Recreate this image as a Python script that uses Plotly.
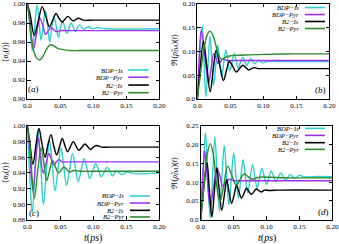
import plotly.graph_objects as go

# ---------------- data ----------------
SERIES_NAMES = ["BDP−Is", "BDP−Pyr", "B2−Is", "B2−Pyr"]
COLORS = ["#2fd0d0", "#a030f0", "#000000", "#2e8b2e"]

X_TICKS = [0.0, 0.05, 0.10, 0.15, 0.20]
X_TICKTEXT = ["0.0", "0.05", "0.10", "0.15", "0.20"]
A_YTICKS = [0.90, 0.92, 0.94, 0.96, 0.98, 1.00]
A_YTICKTEXT = ["0.90", "0.92", "0.94", "0.96", "0.98", "1.00"]
B_YTICKS = [0.0, 0.05, 0.10, 0.15, 0.20]
B_YTICKTEXT = ["0.0", "0.05", "0.10", "0.15", "0.20"]
C_YTICKS = [0.88, 0.90, 0.92, 0.94, 0.96, 0.98, 1.00]
C_YTICKTEXT = ["0.88", "0.90", "0.92", "0.94", "0.96", "0.98", "1.00"]
D_YTICKS = [0.0, 0.05, 0.10, 0.15, 0.20, 0.25]
D_YTICKTEXT = ["0.0", "0.05", "0.10", "0.15", "0.20", "0.25"]

# panel (a): <sigma_z(t)>
a_bdp_is_t = [0, 0.0025, 0.0076, 0.0112, 0.0148, 0.018, 0.0208, 0.024, 0.0275, 0.031, 0.034, 0.037,
              0.0405, 0.044, 0.047, 0.050, 0.0535, 0.057, 0.060, 0.063, 0.0665, 0.070, 0.073, 0.076,
              0.0795, 0.083, 0.086, 0.089, 0.0925, 0.096, 0.099, 0.105, 0.12, 0.2]
a_bdp_is_v = [1.0, 0.988, 0.951, 0.975, 0.999, 0.980, 0.962, 0.977, 0.993, 0.976, 0.960, 0.974,
              0.986, 0.976, 0.965, 0.974, 0.982, 0.975, 0.969, 0.974, 0.980, 0.975, 0.971, 0.975,
              0.978, 0.975, 0.973, 0.975, 0.976, 0.975, 0.974, 0.975, 0.974, 0.974]
a_bdp_pyr_t = [0, 0.003, 0.0095, 0.014, 0.019, 0.0235, 0.028, 0.032, 0.036, 0.040, 0.044, 0.05, 0.06, 0.2]
a_bdp_pyr_v = [1.0, 0.988, 0.953, 0.969, 0.985, 0.977, 0.968, 0.972, 0.975, 0.973, 0.971, 0.972, 0.972, 0.972]
a_b2_is_t = [0, 0.004, 0.0105, 0.0165, 0.0225, 0.028, 0.0335, 0.0385, 0.0435, 0.048, 0.053, 0.057,
             0.0615, 0.066, 0.070, 0.074, 0.078, 0.085, 0.1, 0.2]
a_b2_is_v = [1.0, 0.990, 0.967, 0.982, 0.997, 0.987, 0.976, 0.983, 0.990, 0.985, 0.981, 0.984,
             0.987, 0.984, 0.982, 0.984, 0.985, 0.983, 0.983, 0.983]
a_b2_pyr_t = [0, 0.003, 0.0065, 0.010, 0.014, 0.0185, 0.023, 0.028, 0.0345, 0.040, 0.047, 0.055,
              0.065, 0.08, 0.1, 0.2]
a_b2_pyr_v = [1.0, 0.985, 0.962, 0.950, 0.943, 0.941, 0.944, 0.951, 0.957, 0.956, 0.953, 0.952,
              0.951, 0.951, 0.951, 0.951]

# panel (b): Re(rho_DA)(t)
b_bdp_is_t = [0, 0.0025, 0.005, 0.0076, 0.0103, 0.013, 0.0162, 0.0194, 0.022, 0.0245, 0.028, 0.031,
              0.034, 0.037, 0.040, 0.0435, 0.0465, 0.0495, 0.053, 0.056, 0.059, 0.062, 0.0655, 0.0688,
              0.072, 0.075, 0.078, 0.081, 0.084, 0.087, 0.090, 0.093, 0.096, 0.099, 0.105, 0.12, 0.2]
b_bdp_is_v = [0, 0.06, 0.125, 0.154, 0.08, 0.005, 0.07, 0.133, 0.08, 0.029, 0.072, 0.114,
              0.08, 0.047, 0.075, 0.103, 0.08, 0.060, 0.079, 0.096, 0.08, 0.065, 0.078, 0.088,
              0.079, 0.070, 0.078, 0.085, 0.079, 0.074, 0.078, 0.082, 0.079, 0.076, 0.079, 0.079, 0.079]
b_bdp_pyr_t = [0, 0.003, 0.006, 0.0115, 0.017, 0.021, 0.025, 0.0285, 0.032, 0.0355, 0.039, 0.045, 0.06, 0.2]
b_bdp_pyr_v = [0, 0.09, 0.145, 0.09, 0.033, 0.065, 0.096, 0.085, 0.074, 0.079, 0.084, 0.081, 0.081, 0.081]
b_b2_is_t = [0, 0.004, 0.0093, 0.0145, 0.0195, 0.024, 0.0285, 0.034, 0.0395, 0.044, 0.0485, 0.054,
             0.059, 0.064, 0.069, 0.0735, 0.078, 0.082, 0.086, 0.092, 0.1, 0.2]
b_b2_is_v = [0, 0.06, 0.121, 0.068, 0.015, 0.06, 0.103, 0.071, 0.039, 0.059, 0.079, 0.068,
             0.057, 0.064, 0.071, 0.066, 0.061, 0.064, 0.066, 0.064, 0.064, 0.064]
b_b2_pyr_t = [0, 0.005, 0.01, 0.015, 0.019, 0.024, 0.029, 0.033, 0.037, 0.042, 0.05, 0.06, 0.08, 0.1, 0.15, 0.2]
b_b2_pyr_v = [0, 0.055, 0.105, 0.135, 0.143, 0.133, 0.108, 0.09, 0.084, 0.087, 0.091, 0.092, 0.093, 0.094, 0.095, 0.095]

# panel (c): <sigma_x(t)>
c_bdp_is_t = [0, 0.0035, 0.0075, 0.0118, 0.016, 0.0203, 0.0245, 0.029, 0.0335, 0.0378, 0.042, 0.0465,
              0.051, 0.0553, 0.0595, 0.064, 0.0685, 0.0728, 0.077, 0.0815, 0.086, 0.0903, 0.0945,
              0.099, 0.1035, 0.1078, 0.112, 0.1165, 0.121, 0.125, 0.129, 0.135, 0.143, 0.152, 0.16, 0.2]
c_bdp_is_v = [1.0, 0.94, 0.889, 0.945, 0.995, 0.95, 0.899, 0.942, 0.982, 0.950, 0.917, 0.944,
              0.972, 0.948, 0.924, 0.944, 0.965, 0.947, 0.929, 0.943, 0.958, 0.946, 0.933,
              0.942, 0.952, 0.944, 0.935, 0.941, 0.947, 0.942, 0.936, 0.942, 0.938, 0.941, 0.939, 0.940]
c_bdp_pyr_t = [0, 0.003, 0.0085, 0.0125, 0.0165, 0.020, 0.024, 0.0285, 0.033, 0.0365, 0.040, 0.044,
               0.048, 0.053, 0.06, 0.2]
c_bdp_pyr_v = [1.0, 0.975, 0.917, 0.952, 0.985, 0.962, 0.940, 0.953, 0.965, 0.957, 0.950, 0.954,
               0.957, 0.954, 0.954, 0.954]
c_b2_is_t = [0, 0.003, 0.0085, 0.013, 0.0177, 0.022, 0.027, 0.031, 0.0359, 0.040, 0.0445, 0.049,
             0.053, 0.057, 0.061, 0.065, 0.0697, 0.074, 0.078, 0.083, 0.0874, 0.092, 0.096, 0.100,
             0.105, 0.112, 0.125, 0.2]
c_b2_is_v = [1.0, 0.985, 0.951, 0.975, 0.997, 0.978, 0.960, 0.975, 0.989, 0.975, 0.963, 0.974,
             0.984, 0.975, 0.967, 0.973, 0.980, 0.974, 0.969, 0.973, 0.977, 0.973, 0.970, 0.973,
             0.975, 0.973, 0.973, 0.973]
c_b2_pyr_t = [0, 0.004, 0.0105, 0.0155, 0.0207, 0.025, 0.0293, 0.0335, 0.038, 0.0425, 0.047, 0.051,
              0.0556, 0.060, 0.0646, 0.070, 0.08, 0.1, 0.2]
c_b2_pyr_v = [1.0, 0.975, 0.907, 0.940, 0.972, 0.953, 0.930, 0.942, 0.956, 0.948, 0.940, 0.943,
              0.9475, 0.944, 0.941, 0.943, 0.942, 0.942, 0.942]

# panel (d): Re(rho_DA)(t)
d_bdp_is_t = [0, 0.0036, 0.0072, 0.0107, 0.0143, 0.0179, 0.0215, 0.025, 0.0286, 0.0322, 0.0358, 0.0393,
              0.0429, 0.0465, 0.0501, 0.0536, 0.0572, 0.0608, 0.0644, 0.0679, 0.0715, 0.0751, 0.0787,
              0.0822, 0.0858, 0.0894, 0.093, 0.0965, 0.1001, 0.1037, 0.1073, 0.1108, 0.1144, 0.118,
              0.1216, 0.1251, 0.1287, 0.1323, 0.1359, 0.1394, 0.143, 0.1466, 0.150, 0.1573, 0.17, 0.2]
d_bdp_is_v = [0, 0.12, 0.232, 0.12, 0.005, 0.112, 0.220, 0.121, 0.022, 0.11, 0.198, 0.119,
              0.040, 0.109, 0.178, 0.117, 0.057, 0.108, 0.160, 0.116, 0.072, 0.11, 0.147,
              0.116, 0.084, 0.111, 0.137, 0.116, 0.094, 0.112, 0.130, 0.116, 0.101, 0.113,
              0.125, 0.116, 0.106, 0.113, 0.121, 0.116, 0.110, 0.114, 0.119, 0.114, 0.115, 0.115]
d_bdp_pyr_t = [0, 0.003, 0.006, 0.0095, 0.0145, 0.0195, 0.0245, 0.029, 0.0335, 0.038, 0.043, 0.05, 0.06, 0.2]
d_bdp_pyr_v = [0, 0.11, 0.185, 0.12, 0.035, 0.085, 0.138, 0.118, 0.090, 0.097, 0.108, 0.104, 0.104, 0.104]
d_b2_is_t = [0, 0.0045, 0.0095, 0.0132, 0.017, 0.0207, 0.0245, 0.028, 0.032, 0.036, 0.0395, 0.043,
             0.047, 0.051, 0.0545, 0.058, 0.062, 0.066, 0.0695, 0.073, 0.077, 0.081, 0.0845, 0.088,
             0.092, 0.097, 0.105, 0.12, 0.2]
d_b2_is_v = [0, 0.08, 0.153, 0.08, 0.007, 0.073, 0.139, 0.082, 0.025, 0.066, 0.107, 0.075,
             0.044, 0.068, 0.092, 0.075, 0.058, 0.071, 0.084, 0.076, 0.068, 0.075, 0.082, 0.078,
             0.074, 0.079, 0.078, 0.079, 0.079]
d_b2_pyr_t = [0, 0.005, 0.0095, 0.0145, 0.0195, 0.024, 0.029, 0.0345, 0.041, 0.047, 0.054, 0.060,
              0.066, 0.072, 0.078, 0.085, 0.095, 0.12, 0.2]
d_b2_pyr_v = [0, 0.09, 0.17, 0.203, 0.17, 0.095, 0.048, 0.085, 0.143, 0.12, 0.092, 0.108,
              0.122, 0.115, 0.108, 0.112, 0.114, 0.112, 0.112]

# ---------------- figure ----------------
W, H = 339, 244
SERIF = "Liberation Serif"

panels = [
    # axis suffix, series, x-domain, y-domain, y-range, yticks, yticktext
    ("", [(a_bdp_is_t, a_bdp_is_v), (a_bdp_pyr_t, a_bdp_pyr_v), (a_b2_is_t, a_b2_is_v), (a_b2_pyr_t, a_b2_pyr_v)],
     [27.3 / W, 159.3 / W], [1 - 99 / H, 1 - 4 / H], [0.90, 1.00], A_YTICKS, A_YTICKTEXT),
    ("2", [(b_bdp_is_t, b_bdp_is_v), (b_bdp_pyr_t, b_bdp_pyr_v), (b_b2_is_t, b_b2_is_v), (b_b2_pyr_t, b_b2_pyr_v)],
     [197.3 / W, 329.3 / W], [1 - 99 / H, 1 - 4 / H], [0.0, 0.20], B_YTICKS, B_YTICKTEXT),
    ("3", [(c_bdp_is_t, c_bdp_is_v), (c_bdp_pyr_t, c_bdp_pyr_v), (c_b2_is_t, c_b2_is_v), (c_b2_pyr_t, c_b2_pyr_v)],
     [27.3 / W, 159.3 / W], [1 - 219.7 / H, 1 - 126 / H], [0.88, 1.00], C_YTICKS, C_YTICKTEXT),
    ("4", [(d_bdp_is_t, d_bdp_is_v), (d_bdp_pyr_t, d_bdp_pyr_v), (d_b2_is_t, d_b2_is_v), (d_b2_pyr_t, d_b2_pyr_v)],
     [200.7 / W, 332.3 / W], [1 - 219.7 / H, 1 - 126 / H], [0.0, 0.25], D_YTICKS, D_YTICKTEXT),
]

fig = go.Figure()
layout = dict(
    width=W, height=H, autosize=False,
    margin=dict(l=0, r=0, t=0, b=0),
    paper_bgcolor="white", plot_bgcolor="white",
    showlegend=False,
    font=dict(family=SERIF, size=7, color="black"),
)

axis_common = dict(
    ticks="inside", ticklen=3.5, tickwidth=0.8, tickcolor="black",
    showline=True, linecolor="black", linewidth=0.8, mirror="ticks",
    showgrid=False, zeroline=False, automargin=False,
    tickfont=dict(family=SERIF, size=7, color="black"),
)

for suffix, series, xdom, ydom, yrng, ytv, ytt in panels:
    xname, yname = "x" + suffix, "y" + suffix
    for (t, v), name, col in zip(series, SERIES_NAMES, COLORS):
        fig.add_trace(go.Scatter(x=t, y=v, mode="lines", name=name, xaxis=xname, yaxis=yname,
                                 line=dict(color=col, width=1.4, shape="spline", smoothing=1.0)))
    layout["xaxis" + suffix] = dict(domain=xdom, anchor=yname, range=[0, 0.2],
                                     tickvals=X_TICKS, ticktext=X_TICKTEXT, **axis_common)
    layout["yaxis" + suffix] = dict(domain=ydom, anchor=xname, range=yrng,
                                     tickvals=ytv, ticktext=ytt, **axis_common)

fig.update_layout(**layout)

annotations = []
shapes = []

# legends drawn gnuplot-style: text on the left, line sample on the right
legend_specs = [
    # suffix, text right x (domain), line x0, x1, row y positions (domain)
    ("", 0.735, 0.765, 0.92, [0.305, 0.229, 0.147, 0.066]),
    ("2", 0.78, 0.816, 0.967, [0.963, 0.889, 0.816, 0.742]),
    ("3", 0.743, 0.778, 0.93, [0.253, 0.178, 0.100, 0.029]),
    ("4", 0.757, 0.792, 0.944, [0.975, 0.900, 0.822, 0.751]),
]
for suffix, tx, lx0, lx1, rows in legend_specs:
    for name, col, yy in zip(SERIES_NAMES, COLORS, rows):
        annotations.append(dict(text="<i>" + name + "</i>", xref="x" + suffix + " domain",
                                yref="y" + suffix + " domain", x=tx, y=yy, xanchor="right",
                                yanchor="middle", showarrow=False, borderpad=0,
                                font=dict(family=SERIF, size=6.5, color="black")))
        shapes.append(dict(type="line", xref="x" + suffix + " domain", yref="y" + suffix + " domain",
                           x0=lx0, x1=lx1, y0=yy, y1=yy, line=dict(color=col, width=1.6)))

# panel labels
for suffix, lab, lx, ly in [("", "a", 0.045, 0.11), ("2", "b", 0.935, 0.1),
                            ("3", "c", 0.05, 0.075), ("4", "d", 0.935, 0.08)]:
    annotations.append(dict(text="(<i>" + lab + "</i>)", xref="x" + suffix + " domain",
                            yref="y" + suffix + " domain", x=lx, y=ly, xanchor="center",
                            yanchor="middle", showarrow=False,
                            font=dict(family=SERIF, size=9, color="black")))

# axis titles
ytitles = [
    ("⟨<i>σ<sub>z</sub></i>(<i>t</i>)⟩", 5.5, 52),
    ("ℜ(<i>ρ̃<sub>DA</sub></i>)(<i>t</i>)", 174.5, 50),
    ("⟨<i>σ<sub>x</sub></i>(<i>t</i>)⟩", 5.5, 173),
    ("ℜ(<i>ρ̃<sub>DA</sub></i>)(<i>t</i>)", 174.5, 173),
]
for txt, px, py in ytitles:
    annotations.append(dict(text=txt, xref="paper", yref="paper", x=px / W, y=1 - py / H,
                            xanchor="center", yanchor="middle", textangle=-90, showarrow=False,
                            font=dict(family=SERIF, size=8, color="black")))
for px in [93.3, 266.5]:
    annotations.append(dict(text="<i>t</i>(<i>ps</i>)", xref="paper", yref="paper", x=px / W,
                            y=1 - 237.5 / H, xanchor="center", yanchor="middle", showarrow=False,
                            font=dict(family=SERIF, size=10, color="black")))

fig.update_layout(annotations=annotations, shapes=shapes)
fig.write_html("out.html", config={"displayModeBar": False},
               post_script="document.body.style.margin='0';")
